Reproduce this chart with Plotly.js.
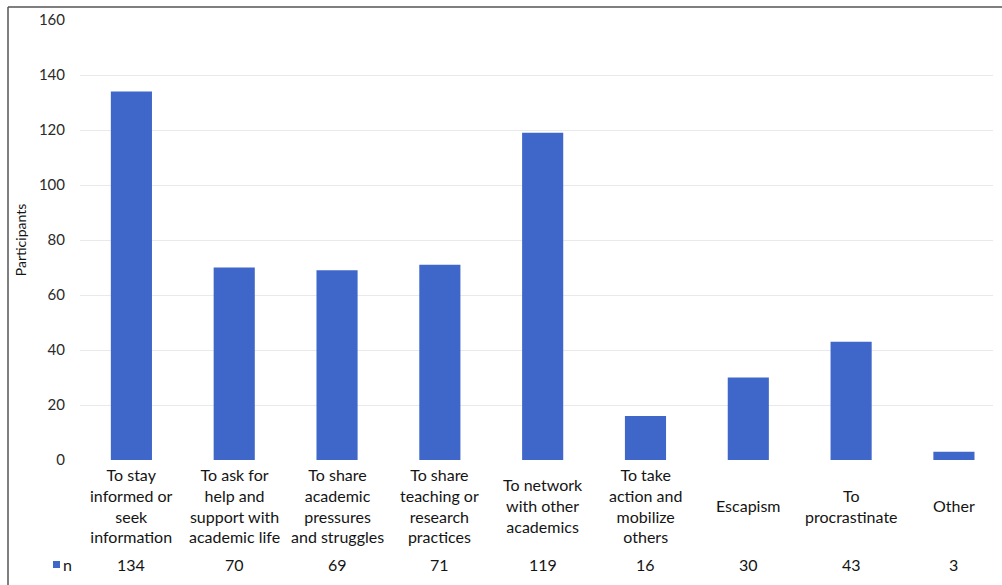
<!DOCTYPE html>
<html>
<head>
<meta charset="utf-8">
<script src="https://cdn.plot.ly/plotly-3.0.1.min.js"></script>
<style>html,body{margin:0;padding:0;background:#fff;}#chart{width:1002px;height:585px;}</style>
</head>
<body>
<div id="chart"></div>
<script>
var categories = [
  "To stay<br>informed or<br>seek<br>information",
  "To ask for<br>help and<br>support with<br>academic life",
  "To share<br>academic<br>pressures<br>and struggles",
  "To share<br>teaching or<br>research<br>practices",
  "To network<br>with other<br>academics",
  "To take<br>action and<br>mobilize<br>others",
  "Escapism",
  "To<br>procrastinate",
  "Other"
];
var seriesName = "n";
var values = [134, 70, 69, 71, 119, 16, 30, 43, 3];
var yTicks = [0, 20, 40, 60, 80, 100, 120, 140, 160];

var FONT = "Lato, 'Open Sans', sans-serif";
var idx = categories.map(function(_, i){ return i; });

var annotations = [];
categories.forEach(function(c, i){
  annotations.push({x: i, xref: 'x', y: -0.1045, yref: 'paper', text: c, showarrow: false,
    xanchor: 'center', yanchor: 'middle', align: 'center',
    font: {family: FONT, size: 16, color: '#141414'}});
  annotations.push({x: i, xref: 'x', y: -0.2386, yref: 'paper', text: String(values[i]), showarrow: false,
    xanchor: 'center', yanchor: 'middle',
    font: {family: FONT, size: 16, color: '#141414'}});
});
annotations.push({x: -0.0066, xref: 'paper', y: -0.2386, yref: 'paper', text: seriesName, showarrow: false,
  xanchor: 'right', yanchor: 'middle', font: {family: FONT, size: 16, color: '#141414'}});

var px = function(p){ return (p - 80) / 913; };
var py = function(p){ return (460 - p) / 440; };

var shapes = [
  {type: 'line', xref: 'paper', yref: 'paper', x0: px(8), x1: px(8), y0: py(585), y1: py(7), line: {color: '#555', width: 1.5}},
  {type: 'line', xref: 'paper', yref: 'paper', x0: px(8), x1: px(1002), y0: py(7), y1: py(7), line: {color: '#555', width: 1.5}},
  {type: 'rect', xref: 'paper', yref: 'paper', x0: px(53), x1: px(60), y0: py(568), y1: py(561), fillcolor: '#3f66c9', line: {width: 0}}
];

var trace = {
  type: 'bar', x: idx, y: values, name: seriesName,
  marker: {color: '#3f66c9'}, hoverinfo: 'y'
};

var layout = {
  width: 1002, height: 585,
  margin: {l: 80, r: 9, t: 20, b: 125},
  paper_bgcolor: '#fff', plot_bgcolor: '#fff',
  showlegend: false,
  bargap: 0.6,
  xaxis: {range: [-0.5, 8.38], showticklabels: false, showgrid: false, zeroline: false, showline: false, ticks: ''},
  yaxis: {range: [0, 160], tickvals: yTicks, ticktext: yTicks.map(String),
    showgrid: true, gridcolor: '#e9e9e9', gridwidth: 1, zeroline: false, showline: false,
    ticks: '', ticklabelstandoff: 14,
    tickfont: {family: FONT, size: 15, color: '#2a2a2a'},
    title: {text: 'Participants', font: {family: FONT, size: 14, color: '#141414'}, standoff: 8}},
  annotations: annotations,
  shapes: shapes
};

Plotly.newPlot('chart', [trace], layout, {staticPlot: true});
</script>
</body>
</html>
